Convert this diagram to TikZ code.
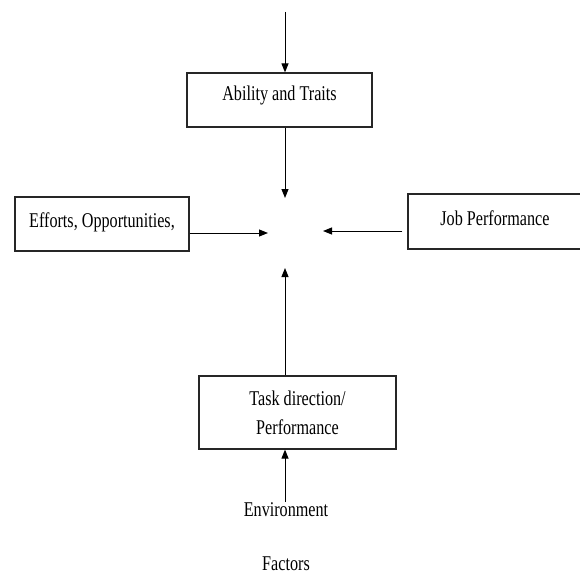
\documentclass[tikz,border=0pt]{standalone}
\usepackage{fontspec}
\setmainfont[FakeStretch=0.77]{Liberation Serif}
\usetikzlibrary{arrows.meta}
\tikzset{
  boxshape/.style={draw=black!85, line width=1.2pt, rectangle, inner sep=0pt},
  lbl/.style={inner sep=0pt, anchor=base, font=\fontsize{21}{29}\selectfont},
  arr/.style={draw=black, line width=1pt, -{Triangle[length=9pt,width=7pt]}}
}
\begin{document}
\begin{tikzpicture}[x=1pt,y=-1pt]
\clip (0,0) rectangle (580,575);
\fill[white] (0,0) rectangle (580,575);
% boxes
\node[boxshape, minimum width=185pt, minimum height=54pt] (abil) at (279.5,100) {};
\node[lbl] (abilt) at (279.5,101) {Ability and Traits};
\node[boxshape, minimum width=174pt, minimum height=54pt] (eff) at (102,224) {};
\node[lbl] (efft) at (102,227) {Efforts, Opportunities,};
\node[boxshape, minimum width=174pt, minimum height=55pt] (job) at (495,221.5) {};
\node[lbl] (jobt) at (495,225) {Job Performance};
\node[boxshape, minimum width=197pt, minimum height=73pt] (task) at (297.5,412.5) {};
\node[lbl] (taskt1) at (297.5,405) {Task direction/};
\node[lbl] (taskt2) at (297.5,434) {Performance};
\node[lbl] (envt) at (286,516) {Environment};
\node[lbl] (fact) at (286,570) {Factors};
% coordinates
\coordinate (top) at (285,12);
\coordinate (c1) at (285,198);
\coordinate (ea) at (268,233);
\coordinate (ja) at (323,231);
\coordinate (tu) at (285,268);
\coordinate (eb) at (285,502);
% connectors
\draw[arr] (top) -- (top |- abil.north);
\draw[arr] (top |- abil.south) -- (c1);
\draw[arr] (eff.east |- ea) -- (ea);
\draw[arr, shorten <=5pt] (job.west |- ja) -- (ja);
\draw[arr] (tu |- task.north) -- (tu);
\draw[arr] (eb) -- (eb |- task.south);
\end{tikzpicture}
\end{document}
